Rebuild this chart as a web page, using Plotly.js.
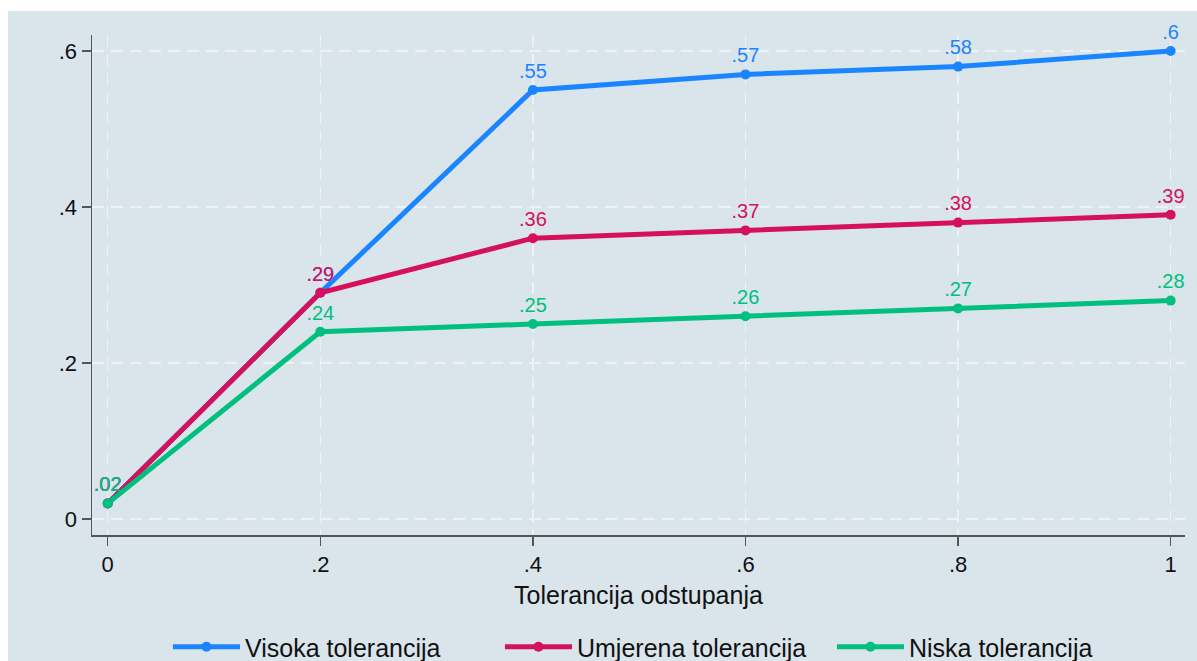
<!DOCTYPE html>
<html>
<head>
<meta charset="utf-8">
<script src="https://cdn.plot.ly/plotly-3.0.1.min.js"></script>
<style>html,body{margin:0;padding:0;background:#fff;}#chart{width:1197px;height:661px;}</style>
</head>
<body>
<div id="chart"></div>
<script>
const xValues = [0, 0.2, 0.4, 0.6, 0.8, 1];
const visoka = [0.02, 0.29, 0.55, 0.57, 0.58, 0.60];
const umjerena = [0.02, 0.29, 0.36, 0.37, 0.38, 0.39];
const niska = [0.02, 0.24, 0.25, 0.26, 0.27, 0.28];
const seriesNames = ["Visoka tolerancija", "Umjerena tolerancija", "Niska tolerancija"];
const seriesColors = ["#1a85ff", "#d41159", "#00bf7f"];
const xTickVals = [0, 0.2, 0.4, 0.6, 0.8, 1];
const xTickText = ["0", ".2", ".4", ".6", ".8", "1"];
const yTickVals = [0, 0.2, 0.4, 0.6];
const yTickText = ["0", ".2", ".4", ".6"];
const xTitle = "Tolerancija odstupanja";

function fmt(v) {
  let s = String(Math.round(v * 100) / 100);
  if (s.startsWith("0.")) s = s.slice(1);
  return s;
}

const FONT = "Liberation Sans, Arial, Helvetica, sans-serif";
const BG = "#d9e4eb";

const traces = [visoka, umjerena, niska].map((ys, i) => ({
  x: xValues,
  y: ys,
  name: seriesNames[i],
  type: "scatter",
  mode: "lines+markers+text",
  line: {color: seriesColors[i], width: 5},
  marker: {color: seriesColors[i], size: 10},
  text: ys.map(fmt),
  textposition: "top center",
  textfont: {family: FONT, size: 20, color: seriesColors[i]},
  cliponaxis: false
}));

const layout = {
  width: 1197,
  height: 661,
  margin: {l: 92, r: 12, t: 35, b: 126, autoexpand: false},
  paper_bgcolor: BG,
  plot_bgcolor: BG,
  font: {family: FONT, size: 21, color: "#111"},
  showlegend: true,
  legend: {
    orientation: "h",
    x: 0.0695, xanchor: "left",
    y: -0.224, yanchor: "middle",
    font: {family: FONT, size: 25, color: "#111"},
    bgcolor: "rgba(0,0,0,0)",
    itemwidth: 67,
    entrywidth: 250,
    entrywidthmode: "pixels",
    traceorder: "normal"
  },
  xaxis: {
    range: [-0.0148, 1.0135],
    tickvals: xTickVals,
    ticktext: xTickText,
    ticks: "outside",
    ticklen: 9,
    tickwidth: 1.5,
    tickcolor: "#555",
    showline: true,
    linecolor: "#555",
    linewidth: 1.5,
    showgrid: true,
    gridcolor: "#eef2f4",
    gridwidth: 1.5,
    griddash: "12px,7px",
    zeroline: false,
    tickfont: {family: FONT, size: 22, color: "#111"},
    title: {text: xTitle, font: {family: FONT, size: 25, color: "#111"}, standoff: 10}
  },
  yaxis: {
    range: [-0.0205, 0.6205],
    tickvals: yTickVals,
    ticktext: yTickText,
    ticks: "outside",
    ticklen: 9,
    tickwidth: 1.5,
    tickcolor: "#555",
    showline: true,
    linecolor: "#555",
    linewidth: 1.5,
    showgrid: true,
    gridcolor: "#eef2f4",
    gridwidth: 1.5,
    griddash: "12px,7px",
    zeroline: false,
    tickfont: {family: FONT, size: 22, color: "#111"}
  },
  shapes: [
    {type: "rect", xref: "paper", yref: "paper", x0: -0.1, x1: 1.05, y0: 1.048, y1: 1.1,
     fillcolor: "#ffffff", line: {width: 0}, layer: "above"},
    {type: "rect", xref: "paper", yref: "paper", x0: -0.1, x1: -0.0769, y0: -0.3, y1: 1.1,
     fillcolor: "#ffffff", line: {width: 0}, layer: "above"}
  ]
};

Plotly.newPlot("chart", traces, layout, {displayModeBar: false, staticPlot: true});
</script>
</body>
</html>
